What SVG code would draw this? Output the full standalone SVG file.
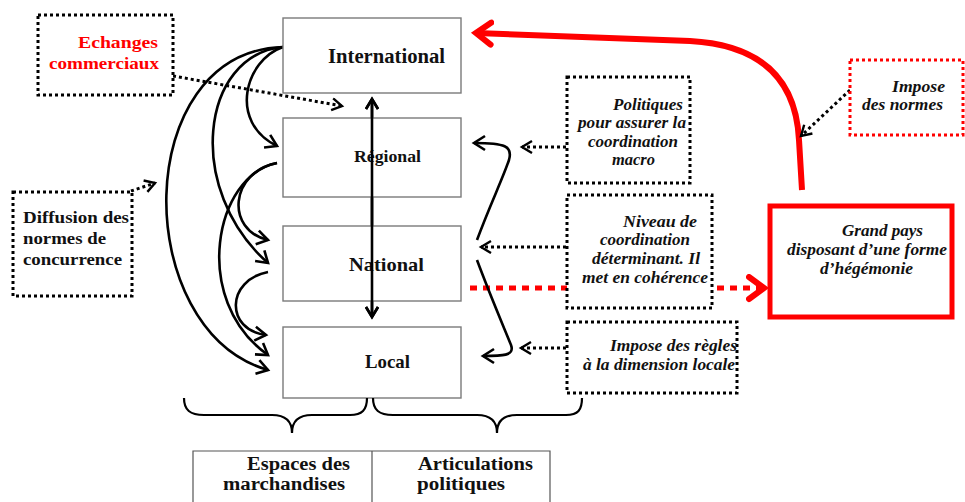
<svg xmlns="http://www.w3.org/2000/svg" width="965" height="502" viewBox="0 0 965 502">
<style>
.lvl{fill:#fff;stroke:#7a7a7a;stroke-width:1.4}
.dot{fill:#fff;stroke:#000;stroke-width:3;stroke-dasharray:3 3}
.nl{font-family:"Liberation Serif",serif;font-weight:bold;fill:#111}
.an{font-family:"Liberation Serif",serif;font-weight:bold;font-style:italic;fill:#111;font-size:16px}
.cv{fill:none;stroke:#000;stroke-width:2.6}
.dl{fill:none;stroke:#000;stroke-width:3;stroke-dasharray:3 3}
.br{fill:none;stroke:#000;stroke-width:2.2}
</style>
<defs>
<marker id="ah" markerUnits="userSpaceOnUse" markerWidth="20" markerHeight="20" refX="13" refY="9" orient="auto">
<path d="M2,2 L13,9 L2,16" fill="none" stroke="#000" stroke-width="2.6"/>
</marker>
<marker id="ahs" markerUnits="userSpaceOnUse" markerWidth="20" markerHeight="20" refX="12" refY="8" orient="auto-start-reverse">
<path d="M2,2 L12,8 L2,14" fill="none" stroke="#000" stroke-width="2.6"/>
</marker>
<marker id="ad" markerUnits="userSpaceOnUse" markerWidth="16" markerHeight="16" refX="11" refY="7" orient="auto">
<path d="M1,1 L11,7 L1,13" fill="none" stroke="#000" stroke-width="2.4"/>
</marker>
<marker id="ar" markerUnits="userSpaceOnUse" markerWidth="30" markerHeight="30" refX="18" refY="14" orient="auto">
<path d="M3,3 L18,14 L3,25" fill="none" stroke="#f00" stroke-width="6" stroke-linecap="round"/>
</marker>
</defs>

<g id="connectors">
<!-- red dotted national -> grand pays -->
<line x1="470" y1="288" x2="764" y2="288" stroke="#f00" stroke-width="5" stroke-dasharray="7 6" marker-end="url(#ar)"/>
<!-- red big arrow -->
<path d="M802,190 L799,140 C796,80 762,45 690,41 L476,33" fill="none" stroke="#f00" stroke-width="6" marker-end="url(#ar)"/>
<!-- left arcs -->
<path class="cv" d="M283,47 C245,60 228,122 277,146" marker-end="url(#ah)"/>
<path class="cv" d="M283,47 C200,55 185,190 268,263" marker-end="url(#ah)"/>
<path class="cv" d="M283,47 C130,52 130,330 268,370" marker-end="url(#ah)"/>
<path class="cv" d="M277,163 C230,172 225,230 268,240" marker-end="url(#ah)"/>
<path class="cv" d="M277,163 C215,175 190,300 268,355" marker-end="url(#ah)"/>
<path class="cv" d="M268,272 C226,280 225,330 266,335" marker-end="url(#ah)"/>
<!-- vertical double arrow -->
<line x1="372" y1="99" x2="372" y2="317" stroke="#000" stroke-width="2.6" marker-start="url(#ahs)" marker-end="url(#ahs)"/>
<!-- right curved arrows -->
<path class="cv" d="M477,240 C490,205 503,178 509,160 C513,146 505,143 474,143" marker-end="url(#ah)"/>
<path class="cv" d="M477,260 C490,295 505,330 511,345 C515,356 502,356 483,356" marker-end="url(#ah)"/>
<!-- dotted arrows -->
<line class="dl" x1="173" y1="76" x2="342" y2="106" marker-end="url(#ad)"/>
<line class="dl" x1="131" y1="191" x2="155" y2="183" marker-end="url(#ad)"/>
<line class="dl" x1="566" y1="147" x2="522" y2="147" marker-end="url(#ad)"/>
<line class="dl" x1="566" y1="247" x2="481" y2="247" marker-end="url(#ad)"/>
<line class="dl" x1="566" y1="348" x2="521" y2="348" marker-end="url(#ad)"/>
<line class="dl" x1="850" y1="90" x2="801" y2="136" marker-end="url(#ad)"/>
</g>

<g id="international"><rect class="lvl" x="283" y="18" width="178" height="75"/>
<text class="nl" x="328" y="63" font-size="20" textLength="117" lengthAdjust="spacingAndGlyphs">International</text></g>
<g id="regional"><rect class="lvl" x="283" y="118" width="178" height="79"/>
<text class="nl" x="354" y="162" font-size="16" textLength="67" lengthAdjust="spacingAndGlyphs">Régional</text></g>
<g id="national"><rect class="lvl" x="283" y="226" width="178" height="75"/>
<text class="nl" x="349" y="271" font-size="19" textLength="75" lengthAdjust="spacingAndGlyphs">National</text></g>
<g id="local"><rect class="lvl" x="283" y="327" width="178" height="71"/>
<text class="nl" x="365" y="368" font-size="19" textLength="45" lengthAdjust="spacingAndGlyphs">Local</text></g>

<!-- redraw vertical arrow over boxes -->
<g id="vertical-link">
<line x1="372" y1="99" x2="372" y2="317" stroke="#000" stroke-width="2.6" marker-start="url(#ahs)" marker-end="url(#ahs)"/>
</g>

<g id="echanges"><rect class="dot" x="38" y="15" width="135" height="80"/>
<text class="nl" font-size="17" fill="#f00" style="fill:#f00"><tspan x="78" y="48" textLength="80" lengthAdjust="spacingAndGlyphs">Echanges</tspan><tspan x="49" y="69" textLength="110" lengthAdjust="spacingAndGlyphs">commerciaux</tspan></text></g>

<g id="diffusion"><rect class="dot" x="13" y="192" width="119" height="104"/>
<text class="nl" font-size="17"><tspan x="23" y="223" textLength="106" lengthAdjust="spacingAndGlyphs">Diffusion des</tspan><tspan x="23" y="244" textLength="83" lengthAdjust="spacingAndGlyphs">normes de</tspan><tspan x="23" y="265" textLength="99" lengthAdjust="spacingAndGlyphs">concurrence</tspan></text></g>

<g id="politiques"><rect class="dot" x="567" y="77" width="123" height="106"/>
<text class="an"><tspan x="613" y="110" textLength="70" lengthAdjust="spacingAndGlyphs">Politiques</tspan><tspan x="578" y="128" textLength="108" lengthAdjust="spacingAndGlyphs">pour assurer la</tspan><tspan x="588" y="147" textLength="90" lengthAdjust="spacingAndGlyphs">coordination</tspan><tspan x="612" y="165" textLength="43" lengthAdjust="spacingAndGlyphs">macro</tspan></text></g>

<g id="niveau"><rect class="dot" x="567" y="195" width="145" height="113"/>
<text class="an"><tspan x="623" y="227" textLength="74" lengthAdjust="spacingAndGlyphs">Niveau de</tspan><tspan x="600" y="245" textLength="90" lengthAdjust="spacingAndGlyphs">coordination</tspan><tspan x="592" y="264" textLength="108" lengthAdjust="spacingAndGlyphs">déterminant. Il</tspan><tspan x="582" y="283" textLength="126" lengthAdjust="spacingAndGlyphs">met en cohérence</tspan></text></g>

<g id="regles"><rect class="dot" x="567" y="322" width="170" height="71"/>
<text class="an"><tspan x="610" y="351" textLength="127" lengthAdjust="spacingAndGlyphs">Impose des règles</tspan><tspan x="583" y="370" textLength="152" lengthAdjust="spacingAndGlyphs">à la dimension locale</tspan></text></g>

<g id="normes"><rect x="850" y="60" width="113" height="75" fill="#fff" stroke="#f00" stroke-width="3" stroke-dasharray="3 3"/>
<text class="an"><tspan x="892" y="92" textLength="53" lengthAdjust="spacingAndGlyphs">Impose</tspan><tspan x="862" y="110" textLength="81" lengthAdjust="spacingAndGlyphs">des normes</tspan></text></g>

<g id="grand-pays"><rect x="770" y="206" width="182" height="111" fill="#fff" stroke="#f00" stroke-width="5"/>
<text class="an"><tspan x="842" y="236" textLength="81" lengthAdjust="spacingAndGlyphs">Grand pays</tspan><tspan x="787" y="255" textLength="160" lengthAdjust="spacingAndGlyphs">disposant d’une forme</tspan><tspan x="820" y="274" textLength="93" lengthAdjust="spacingAndGlyphs">d’hégémonie</tspan></text></g>

<g id="braces">
<path class="br" d="M184,398 C184,410 190,415 204,415 L272,415 C286,415 292,421 292,433 C292,421 298,415 312,415 L350,415 C362,415 367,410 367,398"/>
<path class="br" d="M373,398 C373,410 379,415 393,415 L477,415 C491,415 497,421 497,433 C497,421 503,415 517,415 L566,415 C578,415 582,410 582,398"/>
</g>

<g id="legend">
<path d="M193,504 L193,451 L550,451 L550,504 M372,451 L372,504" fill="none" stroke="#555" stroke-width="1.2"/>
<text class="nl" font-size="18"><tspan x="247" y="470" textLength="103" lengthAdjust="spacingAndGlyphs">Espaces des</tspan><tspan x="223" y="490" textLength="122" lengthAdjust="spacingAndGlyphs">marchandises</tspan></text>
<text class="nl" font-size="18"><tspan x="418" y="470" textLength="115" lengthAdjust="spacingAndGlyphs">Articulations</tspan><tspan x="417" y="490" textLength="88" lengthAdjust="spacingAndGlyphs">politiques</tspan></text>
</g>
</svg>
